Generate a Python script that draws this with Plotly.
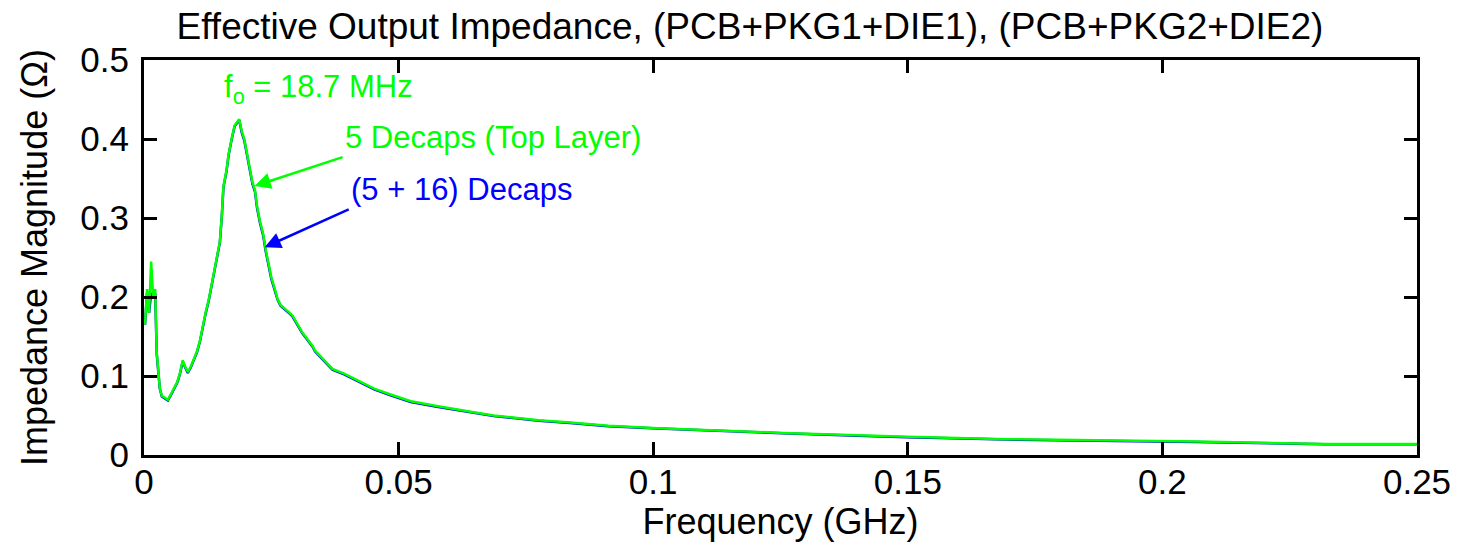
import plotly.graph_objects as go

# Frequency (GHz) and impedance magnitude (Ohm)
freq_ghz = [0.0002, 0.0006, 0.0010, 0.0014, 0.0018, 0.0022, 0.0025, 0.0031, 0.0035, 0.0041,
            0.0047, 0.0053, 0.0059, 0.0065, 0.0070, 0.0076, 0.0080, 0.0086, 0.0092, 0.0098,
            0.0104, 0.0110, 0.0115, 0.0121, 0.0127, 0.0133, 0.0139, 0.0145, 0.0149, 0.0153,
            0.0156, 0.0162, 0.0166, 0.0172, 0.0178, 0.0187, 0.0192, 0.0197, 0.0201, 0.0207,
            0.0213, 0.0218, 0.0222, 0.0228, 0.0234, 0.0239, 0.0245, 0.0250, 0.0257, 0.0262,
            0.0268, 0.0274, 0.0280, 0.0286, 0.0292, 0.0297, 0.0305, 0.0311, 0.0317, 0.0323,
            0.0331, 0.0336, 0.0342, 0.0352, 0.0370, 0.0393, 0.0421, 0.0452, 0.0487, 0.0524,
            0.0575, 0.0618, 0.0647, 0.0687, 0.0730, 0.0775, 0.0837, 0.0912, 0.1009, 0.1117,
            0.1254, 0.1401, 0.1498, 0.1694, 0.2066, 0.2320, 0.2500]

z_top_layer = [0.165, 0.210, 0.180, 0.245, 0.200, 0.210, 0.130, 0.085, 0.075, 0.072,
               0.070, 0.077, 0.085, 0.092, 0.102, 0.120, 0.113, 0.105, 0.112, 0.122,
               0.131, 0.145, 0.162, 0.180, 0.196, 0.215, 0.235, 0.255, 0.270, 0.305,
               0.340, 0.360, 0.380, 0.400, 0.417, 0.425, 0.410, 0.400, 0.385, 0.365,
               0.345, 0.335, 0.315, 0.295, 0.280, 0.260, 0.240, 0.225, 0.210, 0.198,
               0.190, 0.187, 0.183, 0.180, 0.176, 0.170, 0.162, 0.155, 0.150, 0.145,
               0.138, 0.132, 0.128, 0.120, 0.109, 0.103, 0.094, 0.084, 0.076, 0.068,
               0.062, 0.057, 0.054, 0.050, 0.047, 0.044, 0.041, 0.037, 0.034, 0.031,
               0.028, 0.025, 0.023, 0.020, 0.017, 0.014, 0.014]

z_all_decaps = [0.165, 0.205, 0.180, 0.205, 0.200, 0.205, 0.128, 0.084, 0.074, 0.071,
                0.069, 0.076, 0.084, 0.091, 0.101, 0.118, 0.112, 0.104, 0.111, 0.121,
                0.130, 0.144, 0.161, 0.179, 0.195, 0.214, 0.234, 0.254, 0.269, 0.304,
                0.339, 0.359, 0.379, 0.399, 0.416, 0.424, 0.408, 0.398, 0.383, 0.363,
                0.343, 0.333, 0.313, 0.293, 0.278, 0.258, 0.238, 0.223, 0.208, 0.197,
                0.189, 0.186, 0.182, 0.179, 0.175, 0.169, 0.161, 0.154, 0.149, 0.144,
                0.137, 0.131, 0.127, 0.119, 0.108, 0.102, 0.093, 0.083, 0.075, 0.067,
                0.061, 0.0565, 0.0535, 0.0495, 0.0465, 0.0435, 0.0405, 0.0365, 0.0335, 0.0305,
                0.0275, 0.0245, 0.0225, 0.0195, 0.0165, 0.0135, 0.0135]

x_ticks = [0, 0.05, 0.1, 0.15, 0.2, 0.25]
x_tick_text = ["0", "0.05", "0.1", "0.15", "0.2", "0.25"]
y_ticks = [0, 0.1, 0.2, 0.3, 0.4, 0.5]
y_tick_text = ["0", "0.1", "0.2", "0.3", "0.4", "0.5"]

GREEN = "#00FF00"
BLUE = "#0000FF"
FONT = "Liberation Sans"

fig = go.Figure()
fig.add_trace(go.Scatter(x=freq_ghz, y=z_all_decaps, mode="lines",
                         line=dict(color=BLUE, width=2.5), name="(5 + 16) Decaps",
                         showlegend=False))
fig.add_trace(go.Scatter(x=freq_ghz, y=z_top_layer, mode="lines",
                         line=dict(color=GREEN, width=2.5), name="5 Decaps (Top Layer)",
                         showlegend=False))

axis_common = dict(showgrid=False, zeroline=False, showline=True, linecolor="black",
                   linewidth=3, mirror="ticks", ticks="inside", ticklen=13, tickwidth=3,
                   tickcolor="black", tickfont=dict(family=FONT, size=35, color="black"))

fig.update_layout(
    width=1463, height=554,
    margin=dict(l=144, r=41, t=60, b=99),
    paper_bgcolor="white", plot_bgcolor="white",
    title=dict(text="Effective Output Impedance, (PCB+PKG1+DIE1), (PCB+PKG2+DIE2)",
               font=dict(family=FONT, size=37, color="black"),
               x=750 / 1463, xref="container", xanchor="center",
               y=1 - 26 / 554, yref="container", yanchor="middle"),
    xaxis=dict(range=[0, 0.25], tickvals=x_ticks, ticktext=x_tick_text,
               ticklabelstandoff=-6,
               title=dict(text="Frequency (GHz)", font=dict(family=FONT, size=36, color="black"),
                          standoff=0),
               **axis_common),
    yaxis=dict(range=[0, 0.5], tickvals=y_ticks, ticktext=y_tick_text,
               ticklabelstandoff=5,
               title=dict(text="Impedance Magnitude (Ω)", font=dict(family=FONT, size=36, color="black"),
                          standoff=22),
               **axis_common),
)

ann_font = 31
fig.add_annotation(x=0.01526, y=0.463, xref="x", yref="y", showarrow=False,
                   text="f<sub>o</sub> = 18.7 MHz", xanchor="left", yanchor="middle",
                   font=dict(family=FONT, size=ann_font, color=GREEN))
# labelled arrows: text sits at the arrow tail, arrow points at the curve
fig.add_annotation(x=0.0217, y=0.3405, ax=0.0390, ay=0.377, xref="x", yref="y",
                   axref="x", ayref="y", text="5 Decaps (Top Layer)",
                   xanchor="left", yanchor="bottom", showarrow=True, arrowhead=2,
                   arrowsize=1.3, arrowwidth=2.5, arrowcolor=GREEN,
                   font=dict(family=FONT, size=ann_font, color=GREEN))
fig.add_annotation(x=0.0237, y=0.263, ax=0.0402, ay=0.311, xref="x", yref="y",
                   axref="x", ayref="y", text="(5 + 16) Decaps",
                   xanchor="left", yanchor="bottom", showarrow=True, arrowhead=2,
                   arrowsize=1.3, arrowwidth=2.5, arrowcolor=BLUE,
                   font=dict(family=FONT, size=ann_font, color=BLUE))

fig.write_html("out.html")
